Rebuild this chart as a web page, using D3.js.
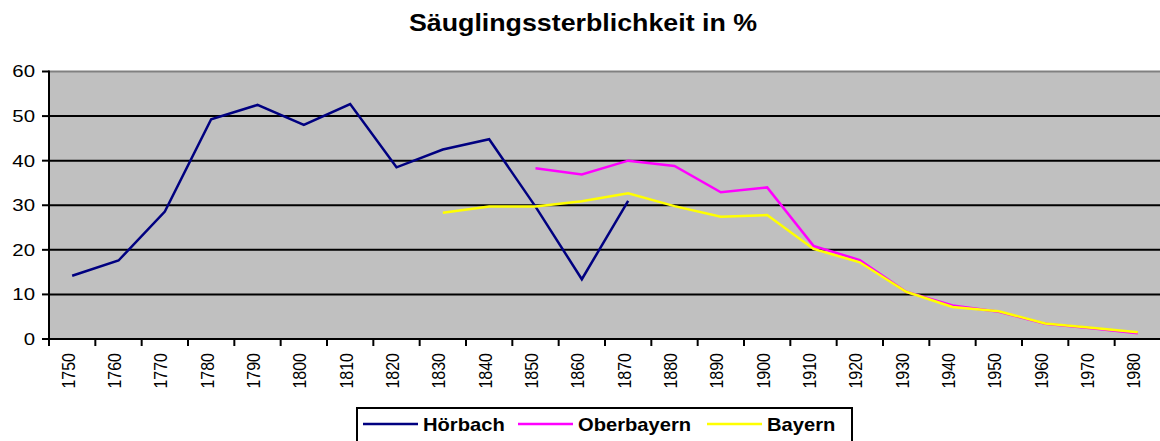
<!DOCTYPE html>
<html>
<head>
<meta charset="utf-8">
<script src="https://cdn.jsdelivr.net/npm/d3@7"></script>
<style>
  body { margin: 0; background: #fff; }
  svg { display: block; font-family: "Liberation Sans", Arial, sans-serif; }
</style>
</head>
<body>
<script>
const years = [1750, 1760, 1770, 1780, 1790, 1800, 1810, 1820, 1830, 1840, 1850, 1860,
  1870, 1880, 1890, 1900, 1910, 1920, 1930, 1940, 1950, 1960, 1970, 1980];
const hoerbach = [14.2, 17.6, 28.6, 49.3, 52.5, 48.0, 52.7, 38.5, 42.5, 44.8, 29.7, 13.4,
  31.0, null, null, null, null, null, null, null, null, null, null, null];
const oberbayern = [null, null, null, null, null, null, null, null, null, null, 38.3, 36.9,
  40.0, 38.8, 32.9, 34.0, 20.9, 17.7, 10.6, 7.5, 6.1, 3.4, 2.4, 1.3];
const bayern = [null, null, null, null, null, null, null, null, 28.3, 29.7, 29.7, 30.9,
  32.7, 29.8, 27.4, 27.8, 20.2, 17.2, 10.6, 7.2, 6.2, 3.5, 2.5, 1.5];
const yTicks = [0, 10, 20, 30, 40, 50, 60];
const seriesNames = ["Hörbach", "Oberbayern", "Bayern"];
const seriesColors = ["#000080", "#ff00ff", "#ffff00"];

const width = 1160, height = 441;
const svg = d3.select("body").append("svg")
  .attr("width", width)
  .attr("height", height);

const x = d3.scaleBand().domain(years).range([49, 1161]).paddingInner(0).paddingOuter(0);
const y = d3.scaleLinear().domain([0, 60]).range([339, 71.5]);
const left = x.range()[0], right = x.range()[1];

// title
svg.append("text")
  .attr("transform", "translate(583,31) scale(1.14,1)")
  .attr("text-anchor", "middle")
  .style("font-weight", "bold")
  .style("font-size", "23.5px")
  .text("Säuglingssterblichkeit in %");

// plot area
svg.append("rect")
  .attr("x", left).attr("y", y(60))
  .attr("width", right - left).attr("height", y(0) - y(60))
  .attr("fill", "#c0c0c0");

svg.append("g").selectAll("line")
  .data(yTicks.filter(d => d > 0))
  .join("line")
  .attr("x1", left).attr("x2", right)
  .attr("y1", d => y(d)).attr("y2", d => y(d))
  .attr("stroke", d => d === 60 ? "#808080" : "#000")
  .attr("stroke-width", 2);

// lines
const line = d3.line()
  .defined(d => d.v != null)
  .x(d => x(d.year) + x.bandwidth() / 2)
  .y(d => y(d.v));

[hoerbach, oberbayern, bayern].forEach((vals, i) => {
  svg.append("path")
    .datum(years.map((yr, j) => ({ year: yr, v: vals[j] })))
    .attr("d", line)
    .attr("fill", "none")
    .attr("stroke", seriesColors[i])
    .attr("stroke-width", 2.5)
    .attr("stroke-linejoin", "miter");
});

// y axis
const yAxis = svg.append("g");
yAxis.append("line")
  .attr("x1", left).attr("x2", left)
  .attr("y1", y(60) - 1).attr("y2", y(0) + 1)
  .attr("stroke", "#000").attr("stroke-width", 2);
yAxis.selectAll(".tk").data(yTicks).join("line")
  .attr("x1", left - 7).attr("x2", left)
  .attr("y1", d => y(d)).attr("y2", d => y(d))
  .attr("stroke", "#000").attr("stroke-width", 2);
yAxis.selectAll("text").data(yTicks).join("text")
  .attr("transform", d => `translate(35,${y(d)}) scale(1.2,1)`)
  .attr("dy", "0.35em")
  .attr("text-anchor", "end")
  .style("font-size", "17px")
  .text(d => d);

// x axis
const xAxis = svg.append("g");
xAxis.append("line")
  .attr("x1", left - 1).attr("x2", right)
  .attr("y1", y(0)).attr("y2", y(0))
  .attr("stroke", "#000").attr("stroke-width", 2);
xAxis.selectAll(".tk").data(years.concat([null])).join("line")
  .attr("x1", d => d == null ? right : x(d))
  .attr("x2", d => d == null ? right : x(d))
  .attr("y1", y(0)).attr("y2", y(0) + 7)
  .attr("stroke", "#000").attr("stroke-width", 2);
xAxis.selectAll("text").data(years).join("text")
  .attr("transform", d => `translate(${x(d) + x.bandwidth() / 2 + 2.5},353) rotate(-90) scale(1,1.1)`)
  .attr("text-anchor", "end")
  .style("font-size", "16px")
  .text(d => d);

// legend
const legend = svg.append("g");
legend.append("rect")
  .attr("x", 357).attr("y", 408)
  .attr("width", 495).attr("height", 40)
  .attr("fill", "#fff").attr("stroke", "#000").attr("stroke-width", 2);
const legX = [363, 518, 707];
seriesNames.forEach((name, i) => {
  legend.append("line")
    .attr("x1", legX[i]).attr("x2", legX[i] + 55)
    .attr("y1", 424).attr("y2", 424)
    .attr("stroke", seriesColors[i]).attr("stroke-width", 2.5);
  legend.append("text")
    .attr("transform", `translate(${legX[i] + 60},431) scale(1.12,1)`)
    .style("font-weight", "bold")
    .style("font-size", "18px")
    .text(name);
});
</script>
</body>
</html>
